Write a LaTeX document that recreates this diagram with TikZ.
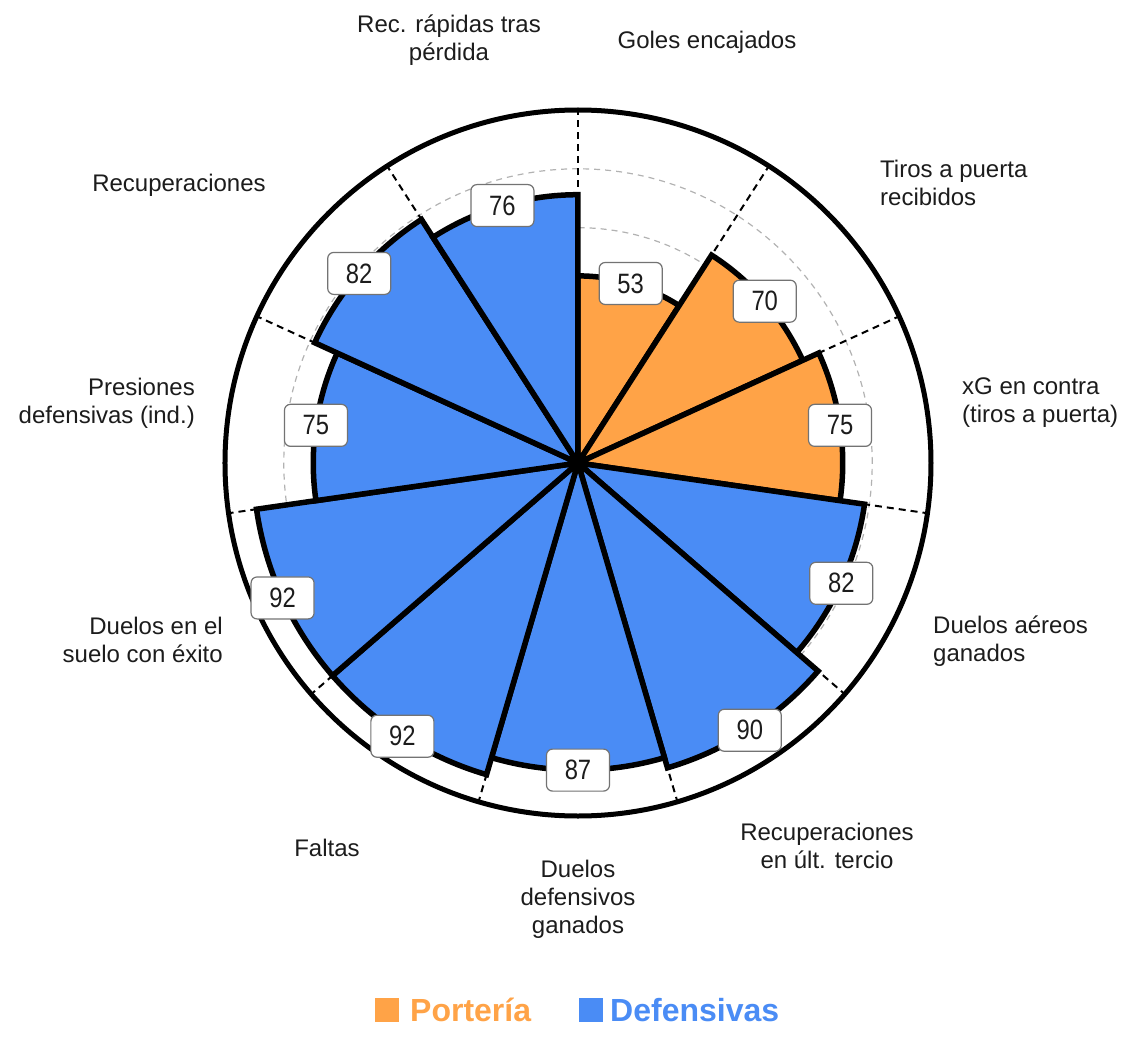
\documentclass[tikz,border=0pt]{standalone}
\usepackage{fontspec}
\setmainfont{Liberation Sans}
\newfontfamily\numfont[FakeStretch=0.85]{Liberation Sans}
\definecolor{porteria}{HTML}{FFA347}
\definecolor{defensa}{HTML}{4A8CF5}
\definecolor{txt}{HTML}{1C1C1C}
\tikzset{
  wedge/.style={line width=5.5pt,draw=black,line join=miter},
  spoke/.style={line width=2pt,line cap=butt,dash pattern=on 7pt off 5pt},
  ring/.style={line width=1.2pt,draw=black!30,line cap=butt,dash pattern=on 6pt off 5pt},
  valbox/.style={draw=black!55,line width=1.2pt,fill=white,rounded corners=6pt,minimum width=63pt,minimum height=42pt,inner sep=0pt,font=\numfont\fontsize{28}{30}\selectfont,text=txt},
  lab/.style={font=\fontsize{24}{28}\selectfont,text=txt,inner sep=0pt},
  legtext/.style={font=\bfseries\fontsize{32}{34}\selectfont,inner sep=0pt,anchor=west}
}
\begin{document}
\begin{tikzpicture}[line cap=round,line join=round,x=1pt,y=1pt]
\useasboundingbox (-578,-579) rectangle (555,463);
% rings and spokes behind the bars
\draw [ring] (0,0) circle (235.3);
\draw [ring] (0,0) circle (294.2);
\draw [spoke] (0,0) -- (90:353);
\draw [spoke] (0,0) -- (57.27:353);
\draw [spoke] (0,0) -- (24.55:353);
\draw [spoke] (0,0) -- (-8.18:353);
\draw [spoke] (0,0) -- (-40.91:353);
\draw [spoke] (0,0) -- (-73.64:353);
\draw [spoke] (0,0) -- (-106.36:353);
\draw [spoke] (0,0) -- (-139.09:353);
\draw [spoke] (0,0) -- (-171.82:353);
\draw [spoke] (0,0) -- (-204.55:353);
\draw [spoke] (0,0) -- (-237.27:353);
\draw [line width=5pt] (0,0) circle (353);
% bars
\draw [wedge,fill=porteria] (0,0) -- (90:187.1) arc[start angle=90,end angle=57.27,radius=187.1] -- cycle;
\draw [wedge,fill=porteria] (0,0) -- (57.27:247.1) arc[start angle=57.27,end angle=24.55,radius=247.1] -- cycle;
\draw [wedge,fill=porteria] (0,0) -- (24.55:264.75) arc[start angle=24.55,end angle=-8.18,radius=264.75] -- cycle;
\draw [wedge,fill=defensa] (0,0) -- (-8.18:289.5) arc[start angle=-8.18,end angle=-40.91,radius=289.5] -- cycle;
\draw [wedge,fill=defensa] (0,0) -- (-40.91:317.7) arc[start angle=-40.91,end angle=-73.64,radius=317.7] -- cycle;
\draw [wedge,fill=defensa] (0,0) -- (-73.64:307.1) arc[start angle=-73.64,end angle=-106.36,radius=307.1] -- cycle;
\draw [wedge,fill=defensa] (0,0) -- (-106.36:324.8) arc[start angle=-106.36,end angle=-139.09,radius=324.8] -- cycle;
\draw [wedge,fill=defensa] (0,0) -- (-139.09:324.8) arc[start angle=-139.09,end angle=-171.82,radius=324.8] -- cycle;
\draw [wedge,fill=defensa] (0,0) -- (-171.82:264.75) arc[start angle=-171.82,end angle=-204.55,radius=264.75] -- cycle;
\draw [wedge,fill=defensa] (0,0) -- (-204.55:289.5) arc[start angle=-204.55,end angle=-237.27,radius=289.5] -- cycle;
\draw [wedge,fill=defensa] (0,0) -- (-237.27:268.3) arc[start angle=-237.27,end angle=-270,radius=268.3] -- cycle;
% values
\node [valbox] (vGoles) at (73.64:187.1) {53};
\node [valbox] (vTiros) at (40.91:247.1) {70};
\node [valbox] (vxG) at (8.18:264.75) {75};
\node [valbox] (vAereos) at (-24.55:289.5) {82};
\node [valbox] (vRecUlt) at (-57.27:317.7) {90};
\node [valbox] (vDefens) at (-90:307.1) {87};
\node [valbox] (vFaltas) at (-122.73:324.8) {92};
\node [valbox] (vSuelo) at (-155.45:324.8) {92};
\node [valbox] (vPres) at (-188.18:264.75) {75};
\node [valbox] (vRecup) at (-220.91:289.5) {82};
\node [valbox] (vRapid) at (-253.64:268.3) {76};
% labels
\node [lab] (lGoles) at (129,421) {Goles encajados};
\node [lab,anchor=west,align=left] (lTiros) at (302,280) {Tiros a puerta\\recibidos};
\node [lab,anchor=west,align=left] (lxG) at (384,60) {xG en contra\\(tiros a puerta)};
\node [lab,anchor=west,align=left] (lAereos) at (355,-178) {Duelos aéreos\\ganados};
\node [lab,align=center] (lRecUlt) at (249,-383) {Recuperaciones\\en últ. tercio};
\node [lab,align=center] (lDefens) at (0,-436) {Duelos\\defensivos\\ganados};
\node [lab] (lFaltas) at (-251,-385) {Faltas};
\node [lab,anchor=east,align=right] (lSuelo) at (-355,-177) {Duelos en el\\suelo con éxito};
\node [lab,anchor=east,align=right] (lPres) at (-383,60) {Presiones\\defensivas (ind.)};
\node [lab] (lRecup) at (-399,278) {Recuperaciones};
\node [lab,align=center] (lRapid) at (-129,423) {Rec. rápidas tras\\pérdida};
% legend
\node [fill=porteria,minimum size=24pt,inner sep=0pt] (sqPort) at (-191,-547) {};
\node [legtext,text=porteria] (legPort) at (-168,-547) {Portería};
\node [fill=defensa,minimum size=24pt,inner sep=0pt] (sqDef) at (13,-547) {};
\node [legtext,text=defensa] (legDef) at (32,-547) {Defensivas};
\end{tikzpicture}
\end{document}
